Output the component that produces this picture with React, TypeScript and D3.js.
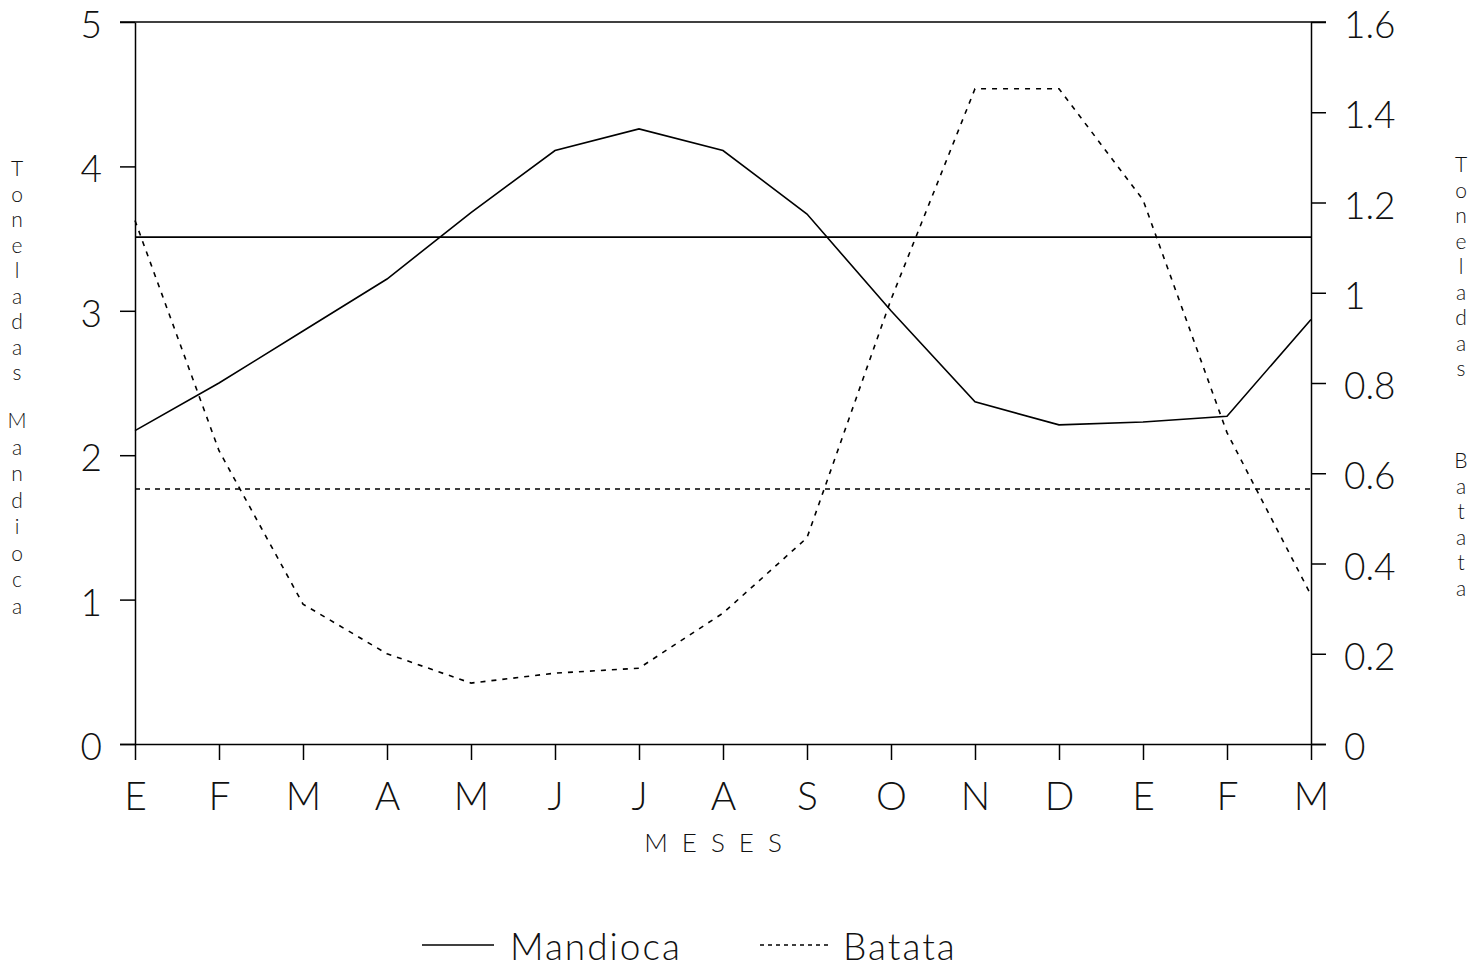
import React from "react";
import * as d3 from "d3";

// month labels along the bottom (Jan of one year to Mar of the next)
const months = ["E", "F", "M", "A", "M", "J", "J", "A", "S", "O", "N", "D", "E", "F", "M"];
// toneladas, left axis
const mandioca = [2.17, 2.5, 2.86, 3.22, 3.68, 4.11, 4.26, 4.11, 3.67, 3.0, 2.37, 2.21, 2.23, 2.27, 2.94];
// toneladas, right axis
const batata = [1.16, 0.65, 0.31, 0.2, 0.135, 0.157, 0.168, 0.29, 0.457, 0.985, 1.452, 1.452, 1.206, 0.69, 0.33];
const mandiocaMean = 3.51;
const batataMean = 0.565;
const leftTicks = [0, 1, 2, 3, 4, 5];
const rightTicks = [0, 0.2, 0.4, 0.6, 0.8, 1, 1.2, 1.4, 1.6];

const FONT = "Lato, Roboto, 'Liberation Sans', sans-serif";

export const useD3 = (renderChartFn: (svg: any) => void, deps: any[]) => {
  const ref = React.useRef<SVGSVGElement>(null);
  React.useEffect(() => {
    renderChartFn(d3.select(ref.current));
  }, deps);
  return ref;
};

// stacked letters, one word after the other, each word with its own start and step
function verticalTitle(g: any, x: number, words: { text: string; y: number; step: number }[]) {
  words.forEach((w) => {
    w.text.split("").forEach((ch, i) => {
      g.append("text")
        .attr("x", x)
        .attr("y", w.y + i * w.step)
        .attr("text-anchor", "middle")
        .attr("font-size", 21)
        .text(ch);
    });
  });
}

function DualChart() {
  const ref = useD3((svg: any) => {
    svg.selectAll("*").remove();
    const left = 135, right = 1311, top = 22, bottom = 744;
    const idx = months.map((_, i) => i);

    const x = d3.scalePoint<number>().domain(idx).range([left, right]);
    const yL = d3.scaleLinear().domain([0, 5]).range([bottom, top]);
    const yR = d3.scaleLinear().domain([0, 1.6]).range([bottom, top]);

    const g = svg.append("g").attr("font-family", FONT).attr("font-weight", 300).attr("fill", "#000");

    const styleText = (a: any, size: number) =>
      a.selectAll("text").attr("font-size", size).attr("font-family", FONT).attr("font-weight", 300).attr("fill", "#111");

    // axes
    g.append("g")
      .attr("transform", `translate(${left},0)`)
      .call(d3.axisLeft(yL).tickValues(leftTicks).tickSize(15).tickSizeOuter(0).tickPadding(18).tickFormat(d3.format("d")))
      .call((a: any) => styleText(a, 37).attr("dy", "0.42em"));

    g.append("g")
      .attr("transform", `translate(${right},0)`)
      .call(d3.axisRight(yR).tickValues(rightTicks).tickSize(15).tickSizeOuter(0).tickPadding(18).tickFormat((d: any) => String(+(+d).toFixed(1))))
      .call((a: any) => styleText(a, 37).attr("dy", "0.42em"));

    g.append("g")
      .attr("transform", `translate(0,${bottom})`)
      .call(d3.axisBottom(x).tickSize(16).tickSizeOuter(0).tickPadding(22).tickFormat((i: any) => months[i]))
      .call((a: any) => styleText(a, 39))
      .call((a: any) => a.select(".domain").attr("d", `M${left - 15},0.5H${right + 15}`));

    // top frame line
    g.append("line")
      .attr("x1", left - 15).attr("x2", right + 15)
      .attr("y1", yL(5)).attr("y2", yL(5))
      .attr("stroke", "#000").attr("stroke-width", 1.5);

    // mean lines
    g.append("line")
      .attr("x1", left).attr("x2", right)
      .attr("y1", yL(mandiocaMean)).attr("y2", yL(mandiocaMean))
      .attr("stroke", "#000").attr("stroke-width", 1.6);
    g.append("line")
      .attr("x1", left).attr("x2", right)
      .attr("y1", yR(batataMean)).attr("y2", yR(batataMean))
      .attr("stroke", "#000").attr("stroke-width", 1.4).attr("stroke-dasharray", "5,5");

    const lineL = d3.line<number>().x((_, i) => x(i)!).y((d) => yL(d));
    const lineR = d3.line<number>().x((_, i) => x(i)!).y((d) => yR(d));

    g.append("path").datum(mandioca).attr("d", lineL)
      .attr("fill", "none").attr("stroke", "#000").attr("stroke-width", 1.6);
    g.append("path").datum(batata).attr("d", lineR)
      .attr("fill", "none").attr("stroke", "#000").attr("stroke-width", 1.6).attr("stroke-dasharray", "5,6");

    // axis titles
    const lt = g.append("g").attr("fill", "#111");
    verticalTitle(lt, 17, [
      { text: "Toneladas", y: 176, step: 25.5 },
      { text: "Mandioca", y: 428, step: 26.5 },
    ]);
    const rt = g.append("g").attr("fill", "#111");
    verticalTitle(rt, 1461, [
      { text: "Toneladas", y: 172, step: 25.5 },
      { text: "Batata", y: 468, step: 25.5 },
    ]);

    g.append("text")
      .attr("x", 720).attr("y", 852)
      .attr("text-anchor", "middle")
      .attr("font-size", 26)
      .attr("letter-spacing", 14)
      .attr("fill", "#111")
      .text("MESES");

    // legend
    const lg = g.append("g").attr("fill", "#111");
    lg.append("line").attr("x1", 422).attr("x2", 494).attr("y1", 945).attr("y2", 945)
      .attr("stroke", "#000").attr("stroke-width", 1.5);
    lg.append("text").attr("x", 510).attr("y", 960).attr("font-size", 37).attr("letter-spacing", 2).text("Mandioca");
    lg.append("line").attr("x1", 760).attr("x2", 828).attr("y1", 945).attr("y2", 945)
      .attr("stroke", "#000").attr("stroke-width", 1.3).attr("stroke-dasharray", "4,4");
    lg.append("text").attr("x", 843).attr("y", 960).attr("font-size", 37).attr("letter-spacing", 2).text("Batata");

    g.selectAll(".tick line").attr("stroke-width", 1.5);
    g.selectAll(".domain").attr("stroke-width", 1.5);
  }, []);

  return (
    <svg
      ref={ref}
      width={1479}
      height={968}
      style={{ position: "absolute", left: 0, top: 0, background: "#fff" }}
    />
  );
}

export default function App() {
  return <DualChart />;
}
